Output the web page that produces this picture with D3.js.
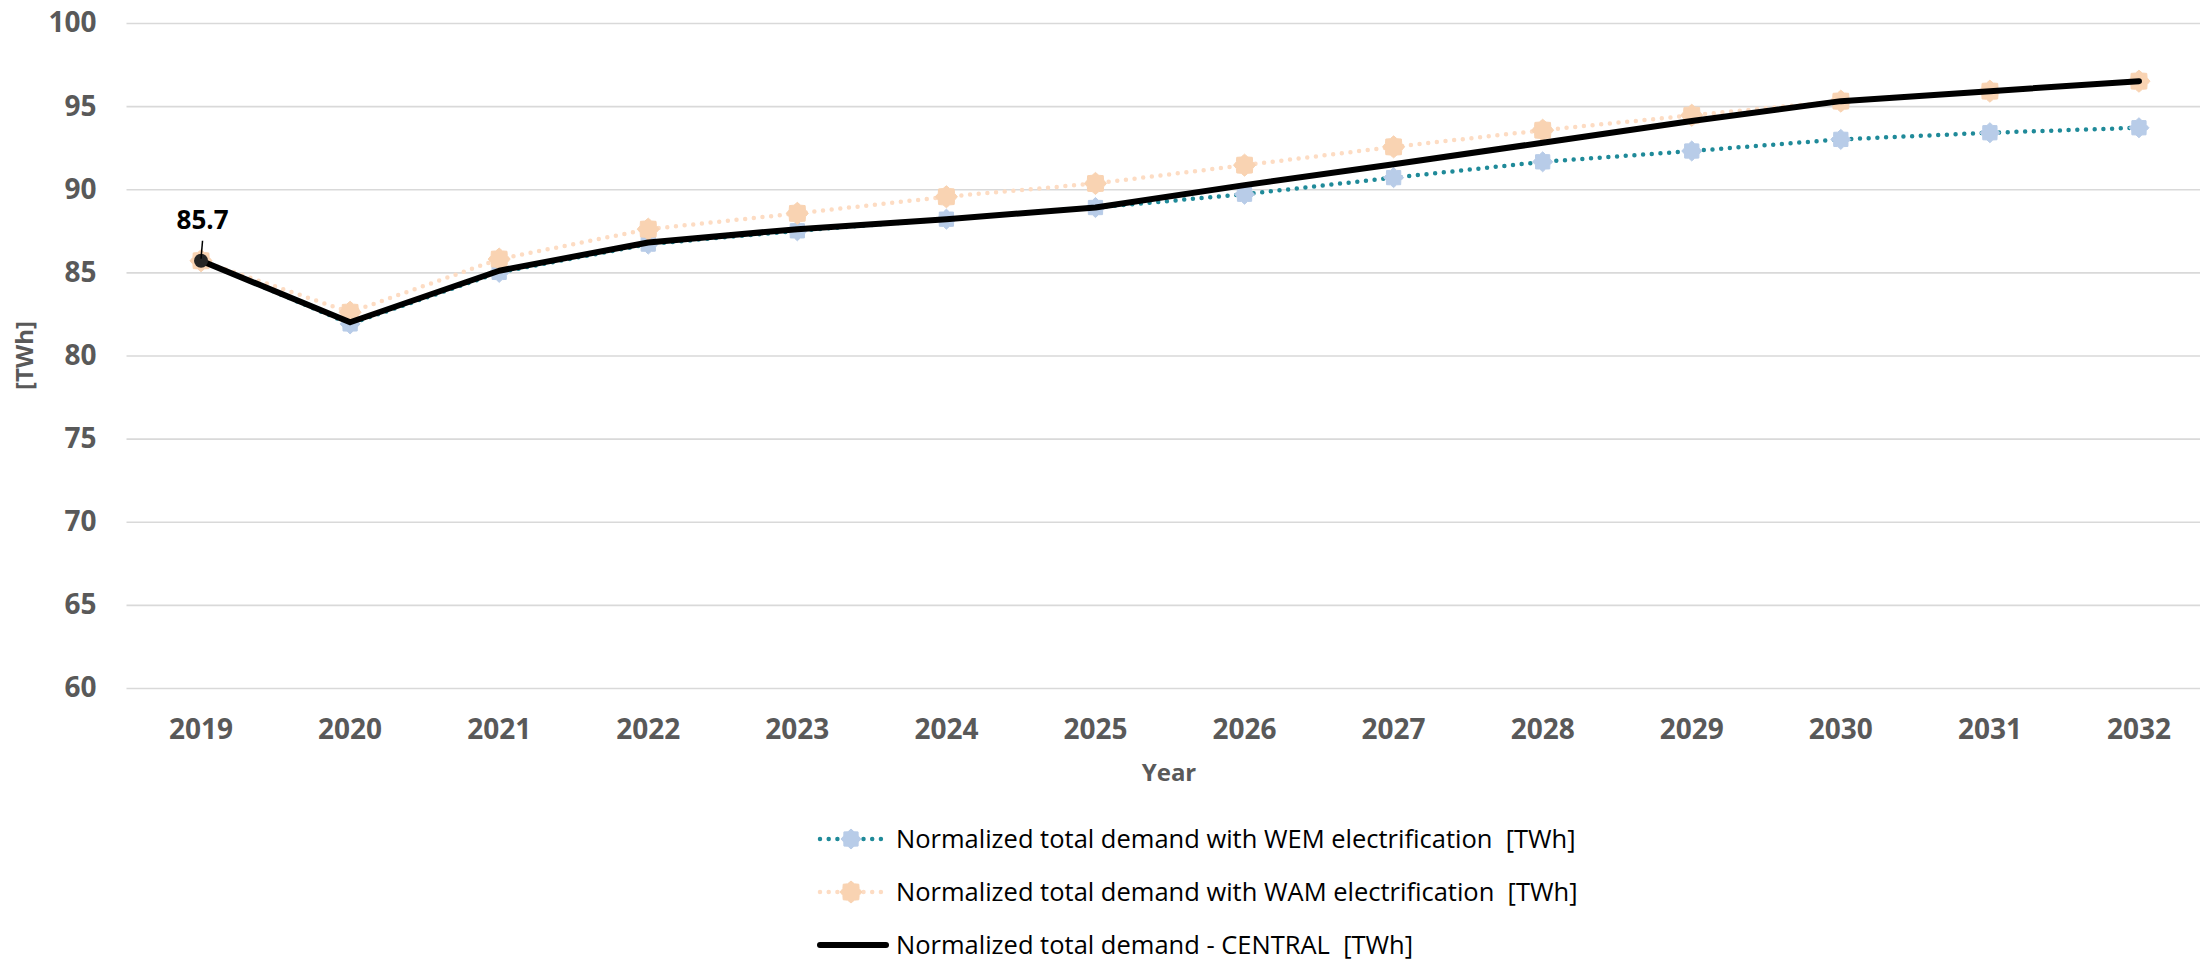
<!DOCTYPE html>
<html>
<head>
<meta charset="utf-8">
<script src="https://cdn.jsdelivr.net/npm/d3@7"></script>
<style>
  body { margin: 0; background: #fff; }
  text { font-family: "Open Sans", sans-serif; }
</style>
</head>
<body>
<div id="chart"></div>
<script>
// Normalized total demand scenarios, 2019-2032 [TWh]
const years = [2019, 2020, 2021, 2022, 2023, 2024, 2025, 2026, 2027, 2028, 2029, 2030, 2031, 2032];
const wem = [85.7, 81.9, 85.0, 86.7, 87.5, 88.2, 88.9, 89.7, 90.7, 91.65, 92.3, 93.0, 93.4, 93.7];
const wam = [85.7, 82.6, 85.8, 87.6, 88.55, 89.55, 90.35, 91.45, 92.55, 93.55, 94.45, 95.3, 95.9, 96.5];
const central = [85.7, 82.0, 85.1, 86.8, 87.6, 88.2, 88.9, 90.25, 91.5, 92.8, 94.1, 95.3, 95.9, 96.5];
const yTicks = [60, 65, 70, 75, 80, 85, 90, 95, 100];
const legendLabels = [
  "Normalized total demand with WEM electrification  [TWh]",
  "Normalized total demand with WAM electrification  [TWh]",
  "Normalized total demand - CENTRAL  [TWh]"
];

const W = 2200, H = 961;
const plotL = 126.5, plotR = 2213.5, plotT = 23, plotB = 688;

const svg = d3.select("#chart").append("svg").attr("width", W).attr("height", H);

const x = d3.scaleBand().domain(years).range([plotL, plotR]);
const cx = d => x(d) + x.bandwidth() / 2;
const y = d3.scaleLinear().domain([60, 100]).range([plotB, plotT]);

// y axis + gridlines
const yAxis = svg.append("g")
  .attr("transform", `translate(${plotL},0)`)
  .call(d3.axisLeft(y).tickValues(yTicks).tickSize(-(plotR - plotL)).tickPadding(30));
yAxis.select(".domain").remove();
yAxis.selectAll("line").attr("stroke", "#d9d9d9").attr("stroke-width", 1.6);
yAxis.selectAll("text")
  .attr("fill", "#595959").attr("font-size", 28).attr("font-weight", 700)
  .style("font-family", "'Open Sans', sans-serif");

// x axis
const xAxis = svg.append("g")
  .attr("transform", `translate(0,${plotB})`)
  .call(d3.axisBottom(x).tickSize(0).tickPadding(31));
xAxis.select(".domain").remove();
xAxis.selectAll("text")
  .attr("fill", "#595959").attr("font-size", 28).attr("font-weight", 700)
  .style("font-family", "'Open Sans', sans-serif");

// axis titles
svg.append("text")
  .attr("x", 1169).attr("y", 781)
  .attr("text-anchor", "middle")
  .attr("fill", "#595959").attr("font-size", 24).attr("font-weight", 700)
  .text("Year");
svg.append("text")
  .attr("transform", `translate(33,${(plotT + plotB) / 2}) rotate(-90)`)
  .attr("text-anchor", "middle")
  .attr("fill", "#595959").attr("font-size", 24).attr("font-weight", 700)
  .text("[TWh]");

// gear-like marker (Excel style)
function gear(rOut, rIn, n) {
  const pts = [];
  for (let i = 0; i < n * 2; i++) {
    const a = Math.PI * i / n;
    const r = i % 2 === 0 ? rOut : rIn;
    pts.push([r * Math.sin(a), -r * Math.cos(a)]);
  }
  return "M" + pts.map(p => p.join(",")).join("L") + "Z";
}

const line = d3.line().x((d, i) => cx(years[i])).y(d => y(d));

const series = [
  { vals: wem, lineColor: "#1f8a99", markColor: "#b8cce8", rOut: 10, rIn: 7.8 },
  { vals: wam, lineColor: "#fddcc3", markColor: "#f9d3b2", rOut: 11, rIn: 8.8 }
];

series.forEach(s => {
  svg.append("path")
    .attr("d", line(s.vals))
    .attr("fill", "none")
    .attr("stroke", s.lineColor)
    .attr("stroke-width", 4.5)
    .attr("stroke-linecap", "round")
    .attr("stroke-dasharray", "0 8.7");
  svg.append("g").selectAll("path").data(s.vals).join("path")
    .attr("d", gear(s.rOut, s.rIn, 8))
    .attr("transform", (d, i) => `translate(${cx(years[i])},${y(d)})`)
    .attr("fill", s.markColor)
    .attr("stroke", s.markColor)
    .attr("stroke-width", 1)
    .attr("stroke-linejoin", "round");
});

// central line
svg.append("path")
  .attr("d", line(central))
  .attr("fill", "none")
  .attr("stroke", "#000")
  .attr("stroke-width", 6)
  .attr("stroke-linejoin", "round")
  .attr("stroke-linecap", "round");

// first-point marker + label
const x0 = cx(years[0]), y0 = y(central[0]);
svg.append("circle").attr("cx", x0).attr("cy", y0).attr("r", 7).attr("fill", "#262626");
svg.append("line")
  .attr("x1", x0 + 1.5).attr("y1", y0 - 20)
  .attr("x2", x0).attr("y2", y0 - 2)
  .attr("stroke", "#000").attr("stroke-width", 1.5);
svg.append("text")
  .attr("x", x0 + 1.5).attr("y", y0 - 32)
  .attr("text-anchor", "middle")
  .attr("font-size", 26).attr("font-weight", 700).attr("fill", "#000")
  .text(central[0].toFixed(1));

// legend
const legY = [839, 892, 945];
const lg = svg.append("g");
legendLabels.forEach((lab, i) => {
  const yy = legY[i];
  if (i < 2) {
    const s = series[i];
    lg.append("line")
      .attr("x1", 820).attr("x2", 882).attr("y1", yy).attr("y2", yy)
      .attr("stroke", s.lineColor).attr("stroke-width", 4.5)
      .attr("stroke-linecap", "round").attr("stroke-dasharray", "0 8.7");
    lg.append("path")
      .attr("d", gear(s.rOut, s.rIn, 8))
      .attr("transform", `translate(851,${yy})`)
      .attr("fill", s.markColor).attr("stroke", s.markColor).attr("stroke-width", 1);
  } else {
    lg.append("line")
      .attr("x1", 820).attr("x2", 886).attr("y1", yy).attr("y2", yy)
      .attr("stroke", "#000").attr("stroke-width", 6).attr("stroke-linecap", "round");
  }
  lg.append("text")
    .attr("x", 896).attr("y", yy + 8.5)
    .attr("font-size", 25.5).attr("fill", "#000")
    .style("white-space", "pre")
    .text(lab);
});
</script>
</body>
</html>
